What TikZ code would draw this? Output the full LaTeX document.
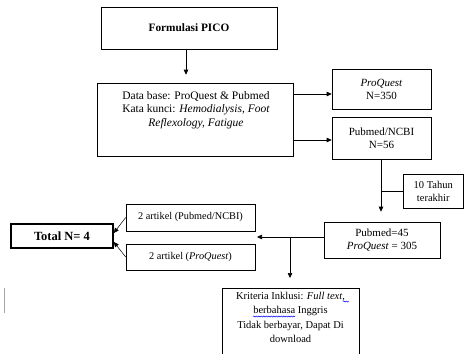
\documentclass[tikz,border=0pt]{standalone}
\usepackage{fontspec}
\setmainfont{Liberation Serif}
\usetikzlibrary{arrows.meta,decorations.pathmorphing}
\begin{document}
\begin{tikzpicture}[x=1pt,y=-1pt,
  box/.style={draw, line width=0.6pt, inner sep=0pt, align=center},
  big/.style={font=\fontsize{11.5}{13.5}\selectfont},
  mid/.style={font=\fontsize{11}{13}\selectfont},
  small/.style={font=\fontsize{10.3}{12}\selectfont},
  arr/.style={-{Triangle[length=5pt,width=4.5pt]}, line width=0.6pt},
  con/.style={line width=0.6pt},
  wave/.style={blue, line width=0.5pt, decorate, decoration={snake, amplitude=0.6pt, segment length=2.5pt}}]
\useasboundingbox (0,0) rectangle (464,354);

% boxes
\node[box, font=\fontsize{11.3}{13}\selectfont, minimum width=176pt, minimum height=42pt] (pico) at (189,28) {\textbf{Formulasi PICO}};
\node[box, minimum width=196pt, minimum height=73pt] (db) at (195,119.5) {};
\node[big, align=center, anchor=north, inner sep=0pt] (dbt) at (196,91)
  {Data base: ProQuest \& Pubmed\\Kata kunci: \textit{Hemodialysis, Foot}\\\textit{Reflexology, Fatigue}};
\node[box, mid, minimum width=99pt, minimum height=40pt] (pq) at (381.5,89) {\textit{ProQuest}\\N=350};
\node[box, mid, minimum width=99pt, minimum height=42pt] (ncbi) at (381.5,138) {Pubmed/NCBI\\N=56};
\node[box, font=\fontsize{10.5}{13}\selectfont, minimum width=60.5pt, minimum height=34pt] (tahun) at (433.25,191) {10 Tahun\\terakhir};
\node[box, mid, minimum width=116pt, minimum height=36pt] (pm45) at (382,240) {Pubmed=45\\\textit{ProQuest} = 305};
\node[box, small, minimum width=129pt, minimum height=27pt] (a1) at (190.5,217.5) {2 artikel (Pubmed/NCBI)};
\node[box, small, minimum width=129pt, minimum height=26pt] (a2) at (190.5,257) {2 artikel (\textit{ProQuest})};
\node[box, font=\fontsize{12.5}{14}\selectfont, line width=1.6pt, minimum width=102pt, minimum height=24pt] (total) at (62,236) {\textbf{Total N= 4}};

% Kriteria box (open at the bottom, cut by the page edge)
\coordinate (kt) at (290,288);
\draw[con] (222,354) -- (222,288) -- (359,288) -- (359,354);
\node[font=\fontsize{10.5}{14.5}\selectfont, align=center, anchor=north, inner sep=0pt] (krit) at (290.5,292)
  {Kriteria Inklusi: \textit{Full text},\\berbahasa Inggris\\Tidak berbayar, Dapat Di\\download};
\draw[wave] (253,316.5) -- (295,316.5);
\draw[wave] (343,301.5) -- (349,301.5);

% connectors
\coordinate (c1) at (186,0);
\draw[arr, shorten >=8pt] (pico.south -| c1) -- (db.north -| c1);
\coordinate (c2) at (0,94);
\coordinate (c3) at (0,140);
\draw[arr] (db.east |- c2) -- (pq.west |- c2);
\draw[arr] (db.east |- c3) -- (ncbi.west |- c3);
\coordinate (c4) at (381,0);
\draw[arr, shorten >=10pt] (ncbi.south -| c4) -- (pm45.north -| c4);
\draw[con] (tahun.west) -- (tahun.west -| c4);
\coordinate (h) at (257,237);
\draw[arr] (pm45.west |- h) -- (h);
\coordinate (br) at (290,237);
\draw[arr, shorten >=10pt] (br) -- (kt);
\draw[arr, line width=0.5pt] (a1.west) -- ([yshift=3pt]total.east);
\draw[arr, line width=0.5pt] (a2.west) -- ([yshift=-6pt]total.east);

% stray cursor mark
\draw[gray!70, line width=1pt] (4,288) -- (4,313);
\end{tikzpicture}
\end{document}
